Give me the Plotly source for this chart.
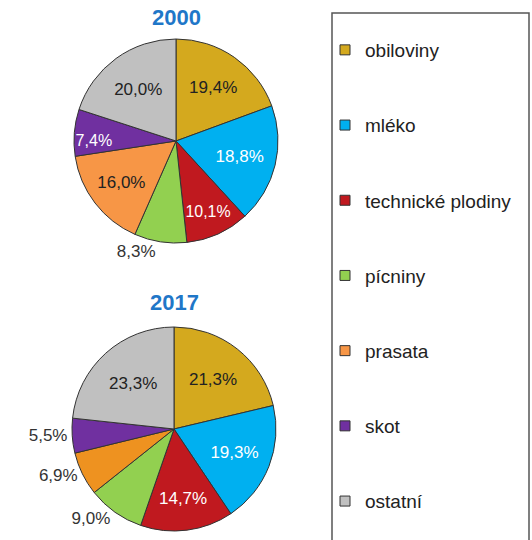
import plotly.graph_objects as go

categories = ["obiloviny", "mléko", "technické plodiny", "pícniny", "prasata", "skot", "ostatní"]
values_2000 = [19.4, 18.8, 10.1, 8.3, 16.0, 7.4, 20.0]
values_2017 = [21.3, 19.3, 14.7, 9.0, 6.9, 5.5, 23.3]
years = ["2000", "2017"]

colors_2000 = ["#D4A91E", "#00B0F0", "#C0191F", "#92D050", "#F79646", "#7030A0", "#C0C0C0"]
colors_2017 = ["#D4A91E", "#00B0F0", "#C0191F", "#92D050", "#EE9220", "#7030A0", "#C0C0C0"]
legend_colors = ["#D4A91E", "#00B0F0", "#C0191F", "#92D050", "#F79646", "#7030A0", "#C0C0C0"]

pos_2000 = ["inside", "inside", "inside", "outside", "inside", "inside", "inside"]
pos_2017 = ["inside", "inside", "inside", "outside", "outside", "outside", "inside"]
tc_2000 = ["#222", "white", "white", "#333", "#222", "white", "#222"]
tc_2017 = ["#222", "white", "white", "#333", "#333", "#333", "#222"]

W, H = 532, 540
FONT = "Liberation Sans, Arial, sans-serif"


def dom(cx, cy, r):
    return dict(x=[(cx - r) / W, (cx + r) / W], y=[1 - (cy + r) / H, 1 - (cy - r) / H])


fig = go.Figure()
for vals, cols, pos, tc, d in [
    (values_2000, colors_2000, pos_2000, tc_2000, dom(176, 141, 102)),
    (values_2017, colors_2017, pos_2017, tc_2017, dom(174, 429, 102)),
]:
    fig.add_trace(go.Pie(
        labels=categories, values=vals, sort=False, direction="clockwise", rotation=0,
        marker=dict(colors=cols, line=dict(color="#333333", width=1)),
        texttemplate="%{value:.1f}%", textposition=pos,
        textfont=dict(color=tc, size=17, family=FONT),
        insidetextorientation="horizontal",
        showlegend=False, domain=d, hoverinfo="label+value",
    ))

for cat, c in zip(categories, legend_colors):
    fig.add_trace(go.Scatter(
        x=[None], y=[None], mode="markers", name=cat, legendgroup=cat,
        marker=dict(symbol="square", size=10, color=c, line=dict(color="#333333", width=1)),
    ))

fig.add_annotation(x=176 / W, y=1 - 18 / H, xref="paper", yref="paper", text="<b>%s</b>" % years[0],
                   showarrow=False, yanchor="middle", xanchor="center",
                   font=dict(size=22, color="#1F77C8", family=FONT))
fig.add_annotation(x=174 / W, y=1 - 302 / H, xref="paper", yref="paper", text="<b>%s</b>" % years[1],
                   showarrow=False, yanchor="middle", xanchor="center",
                   font=dict(size=22, color="#1F77C8", family=FONT))

fig.add_shape(type="rect", xref="paper", yref="paper", x0=332 / W, x1=529 / W, y0=-0.05, y1=1 - 13 / H,
              line=dict(color="#555555", width=1.5), fillcolor="rgba(0,0,0,0)")

fig.update_layout(
    width=W, height=H, margin=dict(l=0, r=0, t=0, b=0, autoexpand=False),
    paper_bgcolor="white", plot_bgcolor="white",
    separators=", ",
    font=dict(family=FONT, color="#222"),
    xaxis=dict(visible=False), yaxis=dict(visible=False),
    legend=dict(x=325 / W, y=1 - 31 / H, xanchor="left", yanchor="top",
                font=dict(size=19, family=FONT, color="#222"),
                traceorder="grouped", tracegroupgap=47.5, bgcolor="rgba(0,0,0,0)", borderwidth=0),
)

fig.write_html("out.html", config={"displayModeBar": False},
               post_script="document.body.style.margin='0px';")
